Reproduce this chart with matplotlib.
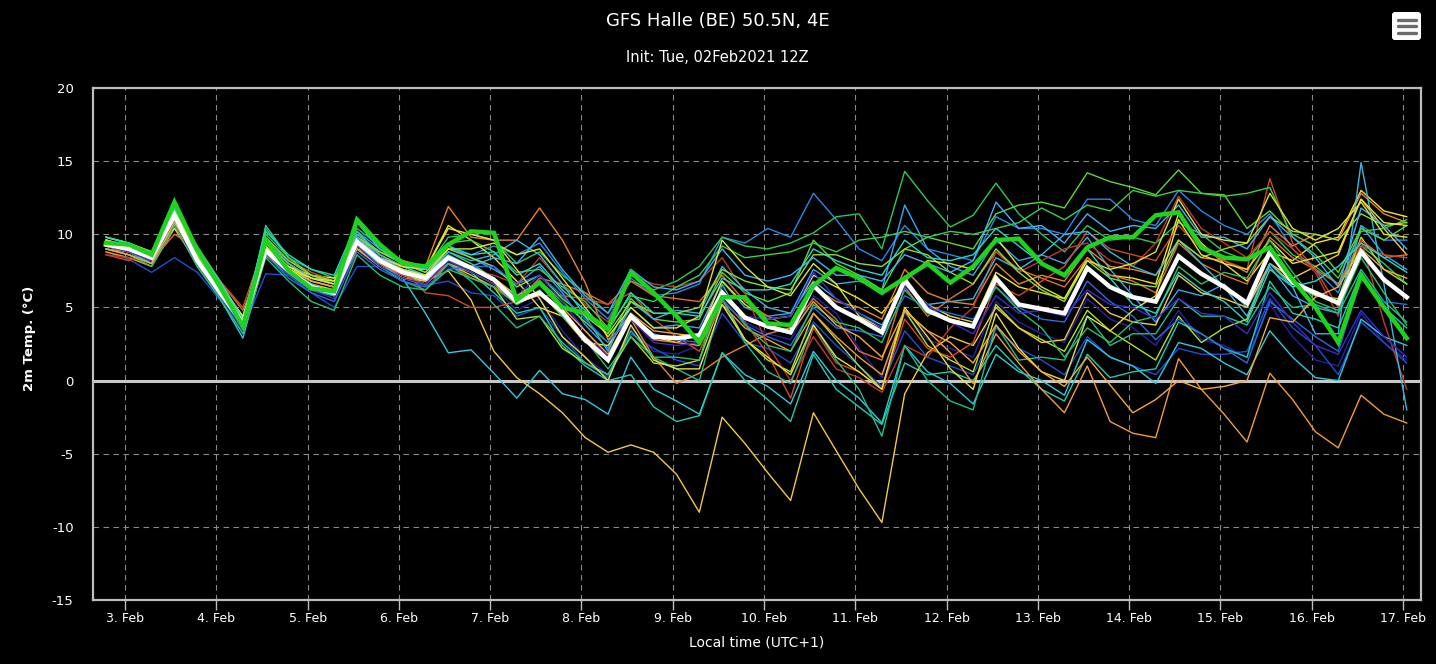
import matplotlib
matplotlib.use("Agg")
import matplotlib.pyplot as plt
from matplotlib.patches import FancyBboxPatch
import pandas as pd

# 6-hourly steps, local time (UTC+1), first step 02 Feb 19h
times = pd.date_range("2021-02-02 19:00", periods=58, freq="6h")
tick_days = pd.date_range("2021-02-03", "2021-02-17", freq="D")
tick_labels = [f"{d.day}. Feb" for d in tick_days]
y_ticks = [-15, -10, -5, 0, 5, 10, 15, 20]

# ensemble mean (white) and control run (thick green)
ens_mean = [9.3, 9.0, 8.4, 11.3, 8.2, 6.0, 3.9, 8.9, 7.5, 6.4, 6.0, 9.5, 8.2, 7.4, 7.0, 8.4, 7.7,
            6.9, 5.4, 6.0, 4.7, 2.8, 1.4, 4.4, 3.0, 2.9, 3.1, 6.0, 4.3, 3.7, 3.3, 6.5, 5.0,
            4.2, 3.3, 6.9, 4.8, 4.1, 3.7, 7.0, 5.2, 4.9, 4.6, 7.7, 6.4, 5.7, 5.4, 8.5, 7.3,
            6.4, 5.3, 8.8, 6.7, 6.0, 5.3, 8.8, 6.9, 5.7]
control = [9.4, 9.3, 8.6, 12.2, 8.9, 6.4, 3.7, 9.6, 7.5, 6.3, 6.1, 11.0, 9.3, 8.0, 7.8, 9.3, 10.2,
           10.1, 5.5, 6.7, 5.0, 4.6, 3.5, 7.4, 6.0, 4.4, 2.6, 5.7, 5.7, 3.9, 3.8, 6.5, 7.7,
           7.0, 6.0, 7.0, 8.0, 6.7, 7.8, 9.6, 9.7, 8.0, 7.2, 9.1, 9.8, 9.8, 11.3, 11.5, 9.1,
           8.4, 8.3, 9.1, 6.9, 5.0, 2.6, 7.2, 5.0, 2.9]

# members
m01 = [9.0, 8.6, 8.0, 10.6, 8.0, 5.8, 3.6, 8.6, 7.4, 6.4, 5.8, 9.2, 8.0, 7.0, 6.6, 7.8, 7.0,
       6.4, 4.8, 5.6, 3.4, 1.6, 0.4, 3.6, 2.0, 1.8, 2.4, 6.4, 4.0, 3.2, 2.8, 5.8, 4.6,
       2.2, 0.2, 4.6, 2.8, 2.2, 1.6, 5.4, 4.0, 3.2, 2.6, 5.6, 4.2, 3.6, 2.4, 4.8, 2.8,
       2.4, 1.6, 5.2, 3.0, 1.4, 1.0, 4.6, 2.6, 1.4]
m02 = [8.8, 8.3, 7.4, 8.4, 7.4, 5.5, 3.5, 7.3, 7.2, 6.0, 5.0, 7.8, 7.8, 7.0, 6.5, 6.8, 6.0,
       5.8, 4.4, 5.0, 3.0, 1.2, 0.2, 3.2, 2.2, 1.4, 1.0, 4.6, 2.6, 2.2, 1.2, 4.0, 2.4,
       1.0, -0.4, 3.4, 1.6, 1.0, 0.4, 3.6, 2.2, 1.4, 0.4, 3.0, 1.6, 1.0, 0.4, 2.2, 1.8,
       1.8, 2.0, 5.6, 3.6, 2.4, 0.4, 4.0, 2.6, 1.2]
m03 = [9.6, 9.2, 8.6, 11.4, 8.6, 6.4, 4.4, 9.4, 7.8, 6.8, 6.4, 10.0, 8.6, 7.8, 7.6, 9.0, 8.6,
       9.2, 8.6, 9.4, 7.4, 5.6, 4.2, 7.0, 5.8, 6.0, 6.6, 9.8, 9.4, 10.4, 9.8, 12.8, 11.0,
       9.0, 8.2, 10.6, 9.0, 8.6, 8.2, 11.2, 10.4, 10.4, 10.0, 12.4, 12.4, 11.0, 10.6, 13.0, 11.6,
       10.6, 10.0, 11.4, 9.0, 7.6, 6.0, 10.6, 9.6, 9.6]
m04 = [9.8, 9.4, 8.8, 11.6, 8.8, 6.6, 4.0, 9.6, 8.0, 7.0, 6.6, 10.2, 9.0, 8.0, 7.4, 9.2, 8.4,
       7.6, 6.6, 7.8, 6.0, 3.8, 2.2, 5.0, 3.6, 3.8, 3.6, 6.8, 5.0, 4.4, 4.6, 7.6, 6.6,
       6.8, 6.2, 12.0, 9.0, 7.8, 7.2, 9.6, 8.2, 8.6, 8.0, 9.8, 7.6, 5.8, 4.0, 6.2, 5.8,
       6.6, 5.0, 7.8, 5.8, 5.0, 4.6, 10.6, 8.6, 7.6]
m05 = [9.2, 8.8, 8.0, 10.8, 7.8, 5.6, 2.9, 8.6, 7.2, 6.2, 5.8, 9.0, 8.0, 7.0, 4.6, 1.9, 2.1,
       0.5, -1.2, 0.7, -0.9, -1.3, -2.3, 1.6, -0.6, -1.4, -2.3, 1.9, 0.4, -0.4, -1.6, 2.0, 0.0,
       -1.2, -2.9, 2.4, 0.6, -0.2, -1.6, 1.8, 0.6, 0.0, -1.0, 2.8, 1.6, 1.0, -0.2, 2.6, 2.2,
       1.2, 0.4, 3.4, 1.6, 0.2, 0.0, 4.2, 3.0, 2.4]
m06 = [9.6, 9.2, 8.4, 11.8, 9.0, 6.6, 3.6, 10.6, 8.4, 7.2, 6.6, 9.8, 8.4, 7.6, 7.2, 8.2, 7.4,
       6.0, 4.6, 5.0, 2.4, 1.0, 0.0, 0.4, -1.8, -2.8, -2.4, 1.9, 0.0, -1.3, -2.8, 1.8, -0.6,
       -1.8, -3.0, 1.2, 0.4, 0.6, 0.0, 2.4, 0.8, -0.6, -1.4, 1.8, 0.2, 0.6, 0.8, 4.0, 3.2,
       2.2, 1.6, 6.8, 4.6, 4.2, 3.6, 7.4, 5.0, 3.6]
m07 = [9.8, 9.4, 8.8, 11.6, 9.2, 6.8, 4.2, 10.0, 8.4, 7.6, 7.0, 10.4, 9.2, 8.2, 7.6, 9.8, 10.0,
       9.6, 8.0, 8.8, 7.2, 6.0, 4.6, 6.8, 6.2, 6.8, 7.8, 9.8, 9.2, 9.0, 9.4, 10.1, 11.2,
       11.4, 9.0, 14.3, 12.3, 10.5, 11.3, 13.5, 11.4, 10.0, 8.8, 10.6, 9.6, 9.8, 9.4, 10.8, 10.0,
       8.8, 8.2, 10.2, 8.6, 7.8, 6.6, 9.2, 8.0, 6.6]
m08 = [9.4, 9.0, 8.4, 11.0, 8.6, 6.4, 4.0, 9.2, 7.8, 6.8, 6.4, 9.8, 8.6, 7.8, 7.2, 8.8, 8.0,
       7.0, 5.8, 6.8, 5.4, 4.0, 2.6, 5.6, 4.2, 4.0, 4.2, 7.4, 6.0, 5.4, 6.0, 9.6, 8.0,
       7.2, 6.2, 9.0, 9.8, 9.4, 9.0, 11.4, 12.0, 12.2, 11.8, 14.2, 13.6, 13.2, 12.7, 14.4, 12.8,
       12.7, 10.4, 11.6, 10.0, 9.2, 7.4, 10.4, 9.6, 10.6]
m09 = [9.2, 8.8, 8.2, 11.0, 8.2, 6.0, 3.8, 8.8, 7.4, 6.4, 6.0, 9.2, 8.0, 7.2, 6.8, 8.0, 7.2,
       6.4, 4.2, 4.4, 2.2, 1.2, 0.4, 3.0, 1.2, 1.0, 1.4, 5.6, 2.8, 1.4, 0.6, 4.6, 2.8,
       1.0, -0.6, 4.8, 2.4, 1.4, 0.6, 5.2, 3.6, 2.8, 2.0, 4.8, 3.4, 2.4, 1.4, 4.4, 2.6,
       3.6, 4.2, 8.0, 6.6, 5.8, 5.6, 9.8, 7.6, 6.6]
m10 = [9.6, 9.2, 8.6, 11.2, 8.4, 6.2, 4.2, 8.8, 7.8, 7.2, 7.0, 9.0, 8.4, 7.8, 7.6, 10.6, 9.6,
       8.4, 6.8, 5.0, 4.4, 2.6, 2.4, 4.6, 3.0, 2.6, 3.2, 6.8, 5.2, 4.2, 4.4, 7.2, 6.4,
       5.6, 4.6, 6.6, 5.2, 4.4, 4.0, 7.4, 6.4, 6.0, 5.6, 8.4, 7.2, 7.0, 6.6, 11.4, 9.4,
       8.0, 6.8, 8.8, 8.2, 9.4, 9.8, 13.0, 11.6, 11.2]
m11 = [9.0, 8.6, 8.0, 10.8, 8.0, 6.0, 4.2, 8.5, 7.6, 6.6, 6.2, 9.0, 7.8, 7.0, 6.8, 7.5, 5.5,
       2.0, 0.2, -0.9, -2.2, -3.9, -4.9, -4.4, -4.9, -6.4, -9.0, -2.5, -4.3, -6.3, -8.2, -2.2, -4.8,
       -7.4, -9.7, -0.9, 1.9, 3.0, 2.4, 5.0, 3.6, 2.6, 2.8, 6.0, 4.6, 4.0, 3.8, 7.2, 6.0,
       5.6, 5.0, 8.0, 7.0, 7.8, 8.6, 12.4, 10.4, 8.6]
m12 = [8.8, 8.4, 7.8, 10.4, 8.0, 6.0, 4.0, 8.6, 7.4, 6.4, 5.8, 9.0, 7.8, 7.0, 6.6, 8.0, 7.4,
       6.6, 5.2, 6.0, 4.4, 3.0, 1.6, 4.2, 2.8, 2.6, 2.4, 5.2, 3.6, 2.8, 2.0, 4.6, 3.0,
       1.6, 0.4, 4.8, 3.4, 1.9, -0.2, 3.2, 1.2, -0.6, -2.2, 1.0, -2.8, -3.6, -3.9, 1.5, -0.6,
       -2.3, -4.2, 0.5, -1.3, -3.5, -4.6, -1.0, -2.3, -2.9]
m13 = [9.0, 8.8, 8.4, 11.0, 8.6, 6.4, 4.4, 9.4, 8.0, 7.0, 6.6, 9.8, 8.8, 8.2, 7.8, 11.9, 9.8,
       9.6, 9.6, 11.8, 9.6, 6.7, 2.8, 4.2, 1.6, -0.2, 0.5, 1.6, 2.4, 3.2, 3.6, 6.4, 5.4,
       5.0, 4.2, 7.6, 6.0, 5.4, 5.2, 8.0, 6.6, 7.2, 6.8, 9.0, 7.8, 7.6, 7.2, 9.6, 8.4,
       8.2, 7.4, 10.6, 9.2, 10.0, 9.6, 12.8, 11.4, 10.8]
m14 = [9.2, 8.8, 8.2, 10.0, 9.0, 6.8, 4.8, 8.6, 7.6, 6.8, 6.4, 9.4, 8.0, 7.2, 6.6, 8.0, 7.0,
       6.4, 5.4, 7.0, 6.6, 6.0, 5.2, 6.8, 5.8, 5.6, 5.4, 7.2, 5.4, 4.4, 3.6, 5.6, 4.2,
       2.0, 1.4, 6.4, 4.4, 5.6, 6.6, 8.8, 7.6, 7.0, 6.4, 8.4, 7.2, 6.8, 6.0, 9.4, 8.0,
       7.2, 6.6, 9.8, 8.4, 7.6, 6.6, 9.6, 8.4, 8.6]
m15 = [8.6, 8.2, 8.8, 10.8, 8.6, 6.8, 5.0, 9.6, 8.2, 7.4, 6.8, 10.2, 8.6, 7.6, 6.0, 5.8, 5.0,
       5.0, 5.4, 5.8, 5.8, 5.6, 5.2, 6.0, 4.2, 3.0, 2.0, 5.4, 4.0, 1.8, -1.2, 3.6, 1.2,
       0.6, -0.6, 4.2, 2.2, 1.6, 2.6, 6.6, 5.8, 6.8, 7.8, 10.2, 9.0, 8.6, 8.2, 10.6, 9.0,
       8.2, 7.6, 13.8, 9.4, 7.6, 5.0, 9.2, 8.6, 8.4]
m16 = [8.6, 8.4, 8.2, 10.6, 8.2, 6.4, 4.4, 9.4, 7.6, 6.6, 6.0, 9.6, 8.2, 7.2, 7.0, 8.4, 7.6,
       7.2, 6.6, 8.4, 6.6, 5.2, 4.0, 7.2, 6.6, 6.4, 6.8, 8.4, 6.0, 2.4, 0.0, 3.0, 0.8,
       0.2, -0.8, 2.4, 1.6, 3.6, 5.0, 8.8, 7.4, 8.2, 9.0, 9.4, 8.2, 7.8, 9.4, 12.6, 10.4,
       9.4, 8.4, 10.2, 9.0, 7.4, 4.4, 9.6, 4.0, -0.6]
m17 = [9.8, 9.4, 8.6, 12.0, 8.8, 6.6, 4.0, 10.4, 8.4, 7.2, 6.8, 10.0, 8.8, 8.0, 7.6, 9.4, 9.6,
       8.8, 7.4, 7.6, 6.4, 5.4, 3.6, 5.8, 5.4, 6.4, 7.2, 9.2, 8.4, 8.6, 8.8, 9.4, 8.8,
       9.6, 9.8, 10.2, 9.8, 10.2, 10.0, 10.4, 10.8, 11.8, 11.0, 12.0, 11.6, 13.0, 12.6, 13.0, 12.8,
       12.6, 12.8, 13.2, 9.8, 8.6, 7.0, 10.2, 10.4, 11.0]
m18 = [9.2, 8.8, 8.0, 11.4, 8.2, 5.8, 3.4, 9.2, 7.4, 6.2, 5.8, 9.4, 7.8, 6.8, 6.2, 8.0, 6.8,
       5.2, 3.6, 4.4, 2.6, 1.2, 0.4, 3.4, 1.6, 0.8, 0.0, 5.6, 2.6, 0.6, -0.2, 3.8, 1.4,
       -0.6, -3.8, 2.4, 0.0, -1.4, -2.0, 3.8, 1.4, 1.6, 1.4, 4.4, 2.4, 3.2, 3.2, 5.6, 4.4,
       4.4, 3.8, 6.4, 5.0, 5.2, 4.6, 7.6, 5.4, 4.0]
m19 = [9.6, 9.0, 8.4, 11.2, 8.6, 6.4, 3.6, 9.6, 8.0, 7.0, 6.6, 10.2, 8.6, 7.8, 7.2, 8.8, 8.2,
       8.6, 9.6, 8.6, 6.6, 4.4, 2.0, 5.4, 4.2, 4.8, 4.6, 7.8, 6.2, 5.0, 4.6, 6.8, 5.6,
       4.6, 3.8, 6.6, 5.2, 5.4, 5.6, 8.4, 7.6, 8.6, 10.0, 10.2, 8.8, 7.8, 7.2, 9.6, 8.0,
       6.4, 4.4, 8.0, 6.4, 3.2, 3.2, 14.9, 6.6, -2.0]
m20 = [9.8, 9.4, 8.8, 11.4, 8.8, 6.6, 4.4, 9.8, 8.2, 7.2, 6.8, 9.8, 8.8, 8.0, 7.4, 9.0, 8.4,
       7.8, 6.4, 7.2, 5.6, 4.4, 3.2, 5.4, 4.6, 4.6, 5.0, 7.6, 6.8, 6.4, 6.2, 8.6, 8.6,
       8.0, 7.8, 9.0, 8.6, 7.4, 6.6, 9.0, 7.4, 6.2, 5.4, 8.2, 7.0, 6.6, 6.4, 9.6, 8.4,
       9.0, 9.4, 11.2, 10.2, 10.0, 9.6, 11.4, 10.6, 10.8]
m21 = [9.4, 9.0, 8.2, 10.8, 8.2, 5.8, 3.2, 8.6, 7.0, 6.0, 5.4, 8.8, 7.6, 6.8, 6.4, 7.6, 7.8,
       7.8, 6.6, 7.2, 5.8, 4.2, 2.6, 4.4, 3.2, 2.8, 2.6, 5.6, 3.8, 3.0, 2.4, 5.0, 3.6,
       3.4, 3.0, 5.8, 5.0, 4.6, 4.2, 6.4, 5.0, 4.2, 4.0, 6.8, 5.4, 4.4, 2.8, 4.2, 3.2,
       2.2, 1.2, 5.4, 4.2, 3.0, 2.0, 7.0, 5.4, 5.2]
m22 = [9.4, 9.0, 8.6, 10.4, 8.6, 6.4, 4.4, 8.8, 7.8, 7.0, 6.6, 9.2, 8.4, 7.8, 7.6, 10.4, 10.0,
       9.6, 7.6, 5.6, 3.0, 1.6, 0.0, 3.8, 1.4, 0.8, 0.8, 5.2, 2.8, 1.6, 0.4, 3.8, 1.6,
       0.6, -0.6, 5.0, 3.0, 0.8, -0.6, 4.6, 2.2, 0.6, 0.0, 4.4, 3.4, 4.8, 5.8, 11.0, 8.6,
       8.0, 7.6, 9.6, 8.0, 8.4, 8.8, 12.4, 10.8, 10.6]
m23 = [9.4, 9.0, 8.2, 11.0, 8.4, 6.2, 3.8, 9.0, 7.6, 6.6, 6.0, 9.8, 8.4, 7.6, 7.2, 8.6, 7.8,
       8.4, 8.0, 9.8, 7.6, 5.8, 4.6, 7.6, 6.4, 6.2, 6.8, 9.0, 7.2, 6.8, 7.2, 8.4, 7.2,
       7.2, 6.8, 8.6, 8.0, 7.4, 8.2, 12.2, 10.4, 10.6, 9.4, 11.4, 10.2, 10.6, 10.4, 12.0, 9.8,
       9.8, 9.0, 11.2, 9.8, 8.4, 6.4, 11.8, 10.6, 9.0]
m24 = [9.0, 8.6, 7.8, 10.6, 7.8, 5.6, 3.2, 8.4, 6.8, 5.4, 4.8, 8.6, 7.2, 6.4, 6.2, 7.6, 7.0,
       6.4, 5.2, 6.2, 4.4, 2.8, 0.8, 3.0, 1.6, 1.6, 1.4, 6.6, 3.8, 2.4, 2.0, 5.2, 4.0,
       3.6, 2.6, 6.2, 4.6, 4.2, 3.8, 6.4, 4.8, 3.6, 1.6, 3.6, 2.6, 4.0, 4.4, 7.8, 6.6,
       7.4, 7.0, 9.6, 7.4, 5.4, 4.8, 8.4, 6.0, 3.8]
m25 = [9.6, 9.2, 8.6, 11.6, 8.8, 6.4, 4.0, 9.2, 7.6, 7.0, 6.8, 9.4, 8.2, 7.6, 7.2, 9.0, 9.0,
       9.4, 8.6, 9.0, 7.0, 5.0, 3.0, 5.0, 3.6, 3.6, 4.4, 9.6, 7.8, 6.4, 5.8, 8.0, 6.6,
       4.4, 3.6, 6.8, 8.2, 8.0, 7.6, 9.8, 7.8, 6.4, 5.6, 8.2, 7.6, 8.0, 8.8, 12.4, 10.0,
       9.6, 9.4, 12.8, 10.4, 9.6, 10.4, 12.2, 10.0, 9.8]
m26 = [9.8, 9.4, 8.6, 11.8, 9.0, 6.8, 4.2, 10.2, 8.6, 7.6, 7.2, 10.8, 9.0, 8.0, 7.6, 9.2, 8.6,
       8.8, 7.2, 8.0, 6.2, 4.8, 3.4, 6.0, 4.6, 4.6, 4.4, 7.0, 6.2, 6.2, 6.6, 9.0, 8.2,
       7.6, 7.2, 9.6, 8.4, 8.2, 8.6, 10.4, 9.2, 8.0, 7.2, 9.0, 7.0, 5.2, 4.6, 7.4, 6.2,
       5.4, 4.0, 7.6, 6.4, 6.8, 7.8, 9.4, 8.4, 7.4]
m27 = [9.2, 8.8, 8.2, 10.8, 8.0, 5.8, 3.4, 8.8, 7.2, 6.2, 5.6, 9.2, 7.8, 7.0, 6.6, 8.2, 7.4,
       6.6, 5.8, 7.2, 5.4, 3.4, 1.6, 4.2, 2.6, 2.4, 2.6, 6.0, 4.4, 4.2, 4.4, 7.4, 5.6,
       4.6, 3.6, 6.4, 5.2, 4.0, 3.2, 5.8, 4.6, 4.8, 4.4, 6.2, 5.2, 5.0, 4.2, 5.6, 4.6,
       4.4, 3.2, 6.0, 4.0, 2.4, 1.8, 4.8, 3.0, 1.6]
m28 = [9.0, 8.6, 8.0, 10.8, 8.2, 6.0, 4.0, 8.8, 7.6, 6.8, 6.4, 9.4, 8.2, 7.4, 7.0, 8.4, 7.6,
       7.0, 5.8, 6.6, 5.0, 3.4, 1.8, 4.6, 3.4, 3.2, 3.0, 5.8, 4.2, 3.6, 3.2, 5.4, 3.8,
       3.0, 1.6, 4.8, 3.4, 2.6, 1.2, 3.8, 2.0, 0.6, -0.4, 1.6, -0.3, -2.2, -1.3, 0.0, -0.6,
       -0.4, 0.0, 4.3, 4.0, 5.7, 6.4, 9.0, 7.6, 7.0]

members = [m01, m02, m03, m04, m05, m06, m07, m08, m09, m10, m11, m12, m13, m14,
           m15, m16, m17, m18, m19, m20, m21, m22, m23, m24, m25, m26, m27, m28]
member_colors = ["#2323a8", "#1f4fd8", "#2a88e8", "#3aa6f0", "#33c8dc", "#22ccb0",
                 "#2ec85a", "#5fd63a", "#b4e02c", "#f2e22e", "#f5c842", "#f39c3a",
                 "#e8832e", "#e07030", "#d24a26", "#c0392b", "#3ccf4a", "#1fbf8f",
                 "#3bb8e0", "#8bdc3c", "#2c6be0", "#e8e040", "#45b0f5", "#29c264",
                 "#d4e63a", "#2fd6c0", "#3a2bd0", "#f5a83c"]

for m in members:
    assert len(m) == len(times)

W, H = 1436, 664
fig = plt.figure(figsize=(W / 100, H / 100), dpi=100, facecolor="black")
ax = fig.add_axes([93 / W, 64 / H, 1328 / W, 512 / H])
ax.set_facecolor("black")

for vals, col in zip(members, member_colors):
    ax.plot(times, vals, color=col, lw=1.0, zorder=3)
ax.plot(times, ens_mean, color="white", lw=3.2, zorder=5, solid_joinstyle="miter")
ax.plot(times, control, color="#1ed21e", lw=3.2, zorder=6, solid_joinstyle="miter")

ax.axhline(0, color="#c8c8c8", lw=2.2, zorder=2)

ax.set_ylim(-15, 20)
ax.set_xlim(pd.Timestamp("2021-02-02 15:35"), pd.Timestamp("2021-02-17 04:45"))
ax.set_xticks(tick_days)
ax.set_xticklabels(tick_labels)
ax.set_yticks(y_ticks)
ax.set_yticklabels([str(v) for v in y_ticks])
ax.grid(True, color="#8a8a8a", lw=0.8, ls=(0, (5, 4)), zorder=1)
for s in ax.spines.values():
    s.set_color("#bdbdbd")
    s.set_linewidth(1.6)
ax.tick_params(axis="x", colors="#bdbdbd", length=7, width=1, labelcolor="white",
               labelsize=9, pad=2)
ax.tick_params(axis="y", length=0, labelcolor="white", labelsize=9.5, pad=14)

fig.text(718 / W, 1 - 21 / H, "GFS Halle (BE) 50.5N, 4E", color="white",
         fontsize=13, ha="center", va="center")
fig.text(717 / W, 1 - 57 / H, "Init: Tue, 02Feb2021 12Z", color="white",
         fontsize=10.5, ha="center", va="center")
fig.text(30 / W, 1 - 338 / H, "2m Temp. (°C)", color="white", fontsize=9.5,
         fontweight="bold", rotation=90, ha="center", va="center")
fig.text(757 / W, 1 - 643 / H, "Local time (UTC+1)", color="white", fontsize=10,
         ha="center", va="center")

# menu button top right
icon = fig.add_axes([1392 / W, 1 - 40 / H, 29 / W, 28 / H])
icon.set_xlim(0, 29)
icon.set_ylim(0, 28)
icon.axis("off")
icon.add_patch(FancyBboxPatch((0.5, 0.5), 28, 27, boxstyle="round,pad=0,rounding_size=3",
                              fc="white", ec="white"))
for yy in (7.5, 13.8, 20.0):
    icon.plot([5.5, 23.5], [yy, yy], color="#6b6b6b", lw=2.4, solid_capstyle="round")

fig.savefig("out.png", dpi=100, facecolor="black")
